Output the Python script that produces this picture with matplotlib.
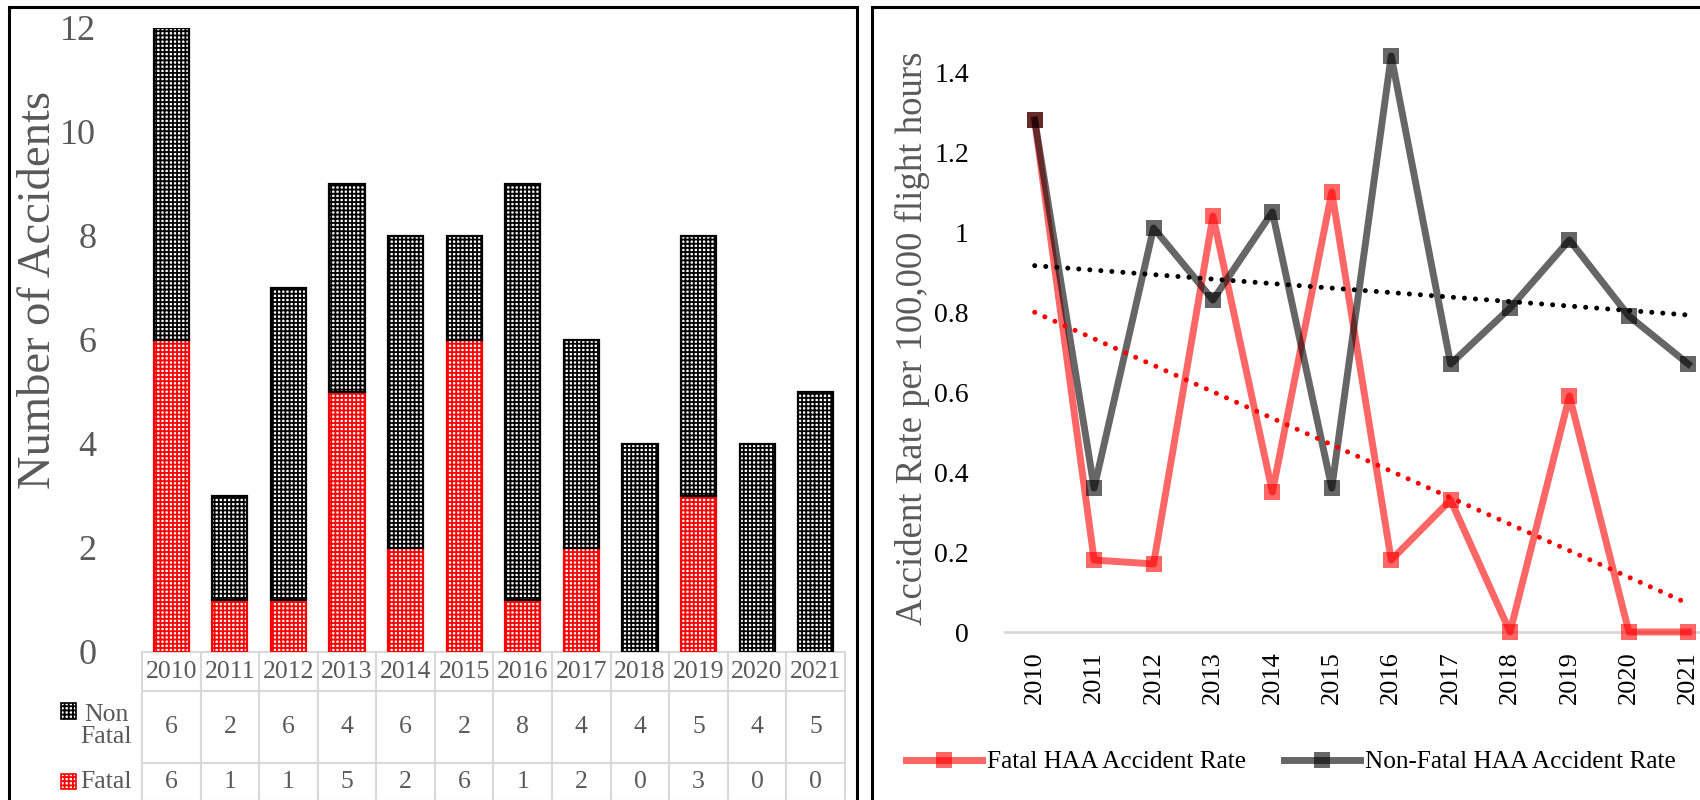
import numpy as np
import matplotlib
matplotlib.use("Agg")
import matplotlib.pyplot as plt
from matplotlib.patches import Rectangle
from matplotlib.ticker import FuncFormatter

plt.rcParams['font.family'] = ['Liberation Serif', 'DejaVu Serif']
plt.rcParams['hatch.linewidth'] = 1.3

years = ['2010', '2011', '2012', '2013', '2014', '2015',
         '2016', '2017', '2018', '2019', '2020', '2021']
non_fatal = [6, 2, 6, 4, 6, 2, 8, 4, 4, 5, 4, 5]
fatal = [6, 1, 1, 5, 2, 6, 1, 2, 0, 3, 0, 0]

fatal_rate = [1.28, 0.18, 0.17, 1.04, 0.35, 1.10, 0.18, 0.33, 0.0, 0.59, 0.0, 0.0]
non_fatal_rate = [1.28, 0.36, 1.01, 0.83, 1.05, 0.36, 1.44, 0.67, 0.81, 0.98, 0.79, 0.67]

GRAY_TXT = '#595959'
GRID = '#d9d9d9'

W, H = 1700, 800
fig = plt.figure(figsize=(17, 8), dpi=100)


def px_box(x0, y_top, x1, y_bot):
    # pixel box (from top-left) -> figure fraction [l, b, w, h]
    return [x0 / W, 1 - y_bot / H, (x1 - x0) / W, (y_bot - y_top) / H]


# panel frames
for x0, x1 in [(9, 857), (872, 1760)]:
    l, b, w, h = px_box(x0, 7, x1, 840)
    fig.add_artist(Rectangle((l, b), w, h, transform=fig.transFigure,
                             fill=False, ec='black', lw=2.2))

# ---------------- left: stacked bars + data table ----------------
ax1 = fig.add_axes(px_box(142, 28, 845, 652))
x = np.arange(len(years))
ax1.bar(x, fatal, width=0.6, color='white', edgecolor='red', hatch='++++', lw=1.6)
ax1.bar(x, non_fatal, bottom=fatal, width=0.6, color='white', edgecolor='black',
        hatch='++++', lw=1.6)
ax1.set_xlim(-0.5, len(years) - 0.5)
ax1.set_ylim(0, 12)
ax1.set_yticks(range(0, 13, 2))
ax1.tick_params(axis='y', length=0, pad=33, labelsize=26, labelcolor=GRAY_TXT)
ax1.set_xticks([])
for s in ax1.spines.values():
    s.set_visible(False)
ax1.set_ylabel('Number of Accidents', fontsize=33.5, color=GRAY_TXT, va='center')
ax1.yaxis.set_label_coords(-0.147, 0.58)

ax_h = 624.0
ax_w = 703.0
h_head, h_nf, h_f = 39 / ax_h, 72 / ax_h, 38 / ax_h
tbl = ax1.table(cellText=[non_fatal, fatal], rowLabels=['', ''], colLabels=years,
                cellLoc='center', bbox=[0, -(h_head + h_nf + h_f), 1, h_head + h_nf + h_f])
tbl.auto_set_font_size(False)
tbl.set_fontsize(18.5)
row_h = {0: h_head, 1: h_nf, 2: h_f}
for (r, c), cell in tbl.get_celld().items():
    cell.set_edgecolor(GRID)
    cell.set_linewidth(1.5)
    cell.get_text().set_color(GRAY_TXT)
    cell.set_height(row_h[r])
    cell.set_width(90 / ax_w if c == -1 else 1 / len(years))

# row labels with legend keys
for label, ty, ky0, ky1, ec in [('Non\nFatal', 726, 703, 719, 'black'),
                                ('Fatal', 782, 774, 789, 'red')]:
    ax1.text((106 - 142) / ax_w, (652 - ty) / ax_h, label, transform=ax1.transAxes,
             ha='center', va='center', multialignment='center',
             fontsize=18.5, color=GRAY_TXT, linespacing=1.05)
    ax1.add_patch(Rectangle(((61 - 142) / ax_w, (652 - ky1) / ax_h), 15 / ax_w,
                            (ky1 - ky0) / ax_h, transform=ax1.transAxes,
                            fc='white', ec=ec, hatch='++++', lw=1.2, clip_on=False))

# ---------------- right: accident rates ----------------
ax2 = fig.add_axes(px_box(1005, 12, 1718, 632))
ax2.plot(x, fatal_rate, color='red', alpha=0.6, lw=5, marker='s', ms=12, mew=0,
         label='Fatal HAA Accident Rate', clip_on=False)
ax2.plot(x, non_fatal_rate, color='black', alpha=0.6, lw=5, marker='s', ms=12, mew=0,
         label='Non-Fatal HAA Accident Rate', clip_on=False)

for rate, col in [(fatal_rate, 'red'), (non_fatal_rate, 'black')]:
    k, c0 = np.polyfit(x, rate, 1)
    ax2.plot(x, k * x + c0, color=col, lw=3.6, ls=(0, (0.01, 2.2)),
             dash_capstyle='round', solid_capstyle='round')

ax2.set_xlim(-0.5, len(years) - 0.5)
ax2.set_ylim(0, 1.55)
ax2.set_yticks(np.arange(0, 1.41, 0.2))
ax2.yaxis.set_major_formatter(FuncFormatter(lambda v, p: f'{v:g}'))
ax2.set_xticks(x)
ax2.set_xticklabels(years, rotation=90)
ax2.tick_params(axis='y', length=0, pad=26, labelsize=20)
ax2.tick_params(axis='x', length=0, pad=14, labelsize=19)
for s in ['top', 'right', 'left']:
    ax2.spines[s].set_visible(False)
ax2.spines['bottom'].set_color(GRID)
ax2.spines['bottom'].set_linewidth(2)
ax2.spines['bottom'].set_zorder(0.5)
ax2.set_ylabel('Accident Rate per 100,000 flight hours', fontsize=26.5,
               color=GRAY_TXT, va='center')
ax2.yaxis.set_label_coords((912 - 1005) / 713, (632 - 338) / 620)

fig.legend(handles=ax2.get_lines()[:2], loc='center left',
           bbox_to_anchor=(906 / W, 1 - 762 / H), ncol=2, frameon=False,
           fontsize=18.2, handlelength=3.0, handletextpad=0.2,
           columnspacing=1.5, borderpad=0, borderaxespad=0)

fig.savefig('out.png', dpi=100)
